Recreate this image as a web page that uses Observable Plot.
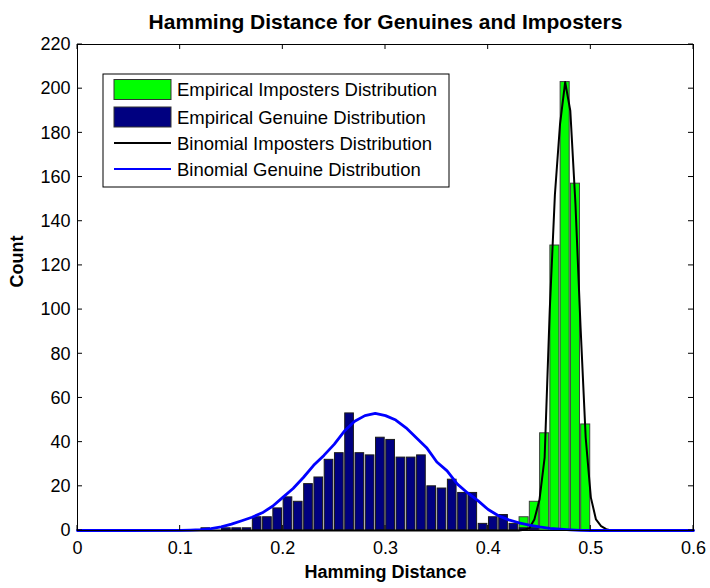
<!DOCTYPE html>
<html>
<head>
<meta charset="utf-8">
<script src="https://cdn.jsdelivr.net/npm/d3@7"></script>
<script src="https://cdn.jsdelivr.net/npm/@observablehq/plot@0.6"></script>
<style>
  html, body { margin: 0; padding: 0; background: white; }
  #chart { width: 710px; height: 588px; }
</style>
</head>
<body>
<div id="chart"></div>
<script>
// ---- Data ----
const titleText = "Hamming Distance for Genuines and Imposters";
const xLabel = "Hamming Distance";
const yLabel = "Count";

const xTicks = [0, 0.1, 0.2, 0.3, 0.4, 0.5, 0.6];
const xTickLabels = ["0", "0.1", "0.2", "0.3", "0.4", "0.5", "0.6"];
const yTicks = [0, 20, 40, 60, 80, 100, 120, 140, 160, 180, 200, 220];

const binWidth = 0.01;

// Empirical imposters histogram (bin centers, counts)
const impBins   = [0.435, 0.445, 0.455, 0.465, 0.475, 0.485, 0.495];
const impCounts = [6, 13, 44, 129, 203, 157, 48];

// Empirical genuine histogram (bin centers, counts)
const genBins = [0.125, 0.145, 0.155, 0.165, 0.175, 0.185, 0.195, 0.205, 0.215, 0.225,
                 0.235, 0.245, 0.255, 0.265, 0.275, 0.285, 0.295, 0.305, 0.315, 0.325,
                 0.335, 0.345, 0.355, 0.365, 0.375, 0.385, 0.395, 0.405, 0.415, 0.425,
                 0.435, 0.445];
const genCounts = [1, 1, 1, 1, 6, 6, 10, 15, 13, 21,
                   24, 32, 35, 53, 35, 34, 42, 41, 33, 33,
                   34, 20, 19, 23, 17, 17, 3, 6, 7, 3,
                   1, 1];

// Binomial imposters fit (black curve)
const impFitX = [0, 0.40, 0.43, 0.435, 0.44, 0.445, 0.45, 0.455, 0.46, 0.465, 0.47, 0.475,
                 0.48, 0.485, 0.49, 0.495, 0.50, 0.505, 0.51, 0.515, 0.52, 0.60];
const impFitY = [0, 0, 0, 0.3, 1, 5, 14, 33, 100, 152, 184, 203,
                 190, 148, 92, 42, 15, 5, 2, 0.6, 0, 0];

// Binomial genuine fit (blue curve)
const genFitX = [0, 0.05, 0.10, 0.11, 0.12, 0.13, 0.14, 0.15, 0.16, 0.17, 0.18, 0.19,
                 0.20, 0.21, 0.22, 0.23, 0.24, 0.25, 0.26, 0.27, 0.28, 0.29, 0.30,
                 0.31, 0.32, 0.33, 0.34, 0.35, 0.36, 0.37, 0.38, 0.39, 0.40, 0.41,
                 0.42, 0.43, 0.44, 0.45, 0.46, 0.47, 0.48, 0.49, 0.50, 0.55, 0.60];
const genFitY = [0, 0, 0.1, 0.2, 0.4, 0.8, 1.6, 2.9, 4.4, 6, 8, 11,
                 15, 19, 24, 29.5, 34, 39, 45, 49.5, 52, 53, 52,
                 50, 46.5, 42, 37.5, 31, 27, 21, 17, 13.5, 9.5, 6.7,
                 4.8, 3.5, 2.4, 1.6, 1, 0.6, 0.3, 0.1, 0, 0, 0];

const legendItems = [
  {label: "Empirical Imposters Distribution", kind: "rect", color: "#00FF00"},
  {label: "Empirical Genuine Distribution",   kind: "rect", color: "#000080"},
  {label: "Binomial Imposters Distribution",  kind: "line", color: "#000000"},
  {label: "Binomial Genuine Distribution",    kind: "line", color: "#0000FF"}
];

// ---- Tables built from arrays ----
const impData = impBins.map((c, i) => ({c, n: impCounts[i]}));
const genData = genBins.map((c, i) => ({c, n: genCounts[i]}));
const impFit = impFitX.map((x, i) => ({x, y: impFitY[i]}));
const genFit = genFitX.map((x, i) => ({x, y: genFitY[i]}));

const font = "'Liberation Sans', Arial, Helvetica, sans-serif";

const plot = Plot.plot({
  width: 710,
  height: 588,
  marginLeft: 77,
  marginRight: 17,
  marginTop: 44,
  marginBottom: 58,
  style: {fontFamily: font, fontSize: "18px", background: "white", color: "black"},
  x: {domain: [0, 0.6]},
  y: {domain: [0, 220]},
  marks: [
    Plot.rectY(impData, {
      x1: d => d.c - binWidth / 2, x2: d => d.c + binWidth / 2, y1: 0, y2: "n",
      fill: "#00FF00", stroke: "#404040", strokeWidth: 1, insetLeft: 0.6, insetRight: 0.6
    }),
    Plot.rectY(genData, {
      x1: d => d.c - binWidth / 2, x2: d => d.c + binWidth / 2, y1: 0, y2: "n",
      fill: "#000080", stroke: "#1a1a1a", strokeWidth: 1, insetLeft: 0.8, insetRight: 0.8
    }),
    Plot.line(impFit, {x: "x", y: "y", stroke: "black", strokeWidth: 2}),
    Plot.line(genFit, {x: "x", y: "y", stroke: "#0000FF", strokeWidth: 2.8}),
    Plot.frame({stroke: "black", strokeWidth: 1}),
    Plot.axisX({
      ticks: xTicks, tickSize: 0, tickPadding: 11,
      tickFormat: d => xTickLabels[xTicks.indexOf(d)], label: null, fontSize: 18
    }),
    Plot.axisY({ticks: yTicks, tickSize: 0, tickPadding: 7, label: null, fontSize: 18}),
    Plot.text([titleText], {
      text: d => d, frameAnchor: "top", dy: -30, fontWeight: "bold", fontSize: 21
    }),
    Plot.text([xLabel], {
      text: d => d, frameAnchor: "bottom", dy: 47, fontWeight: "bold", fontSize: 18
    }),
    Plot.text([yLabel], {
      text: d => d, frameAnchor: "left", dx: -60, rotate: -90, fontWeight: "bold", fontSize: 18
    })
  ]
});

document.getElementById("chart").appendChild(plot);

// ---- Inward tick marks on all four sides (MATLAB box style) ----
const svg = d3.select(plot);
const xs = plot.scale("x"), ys = plot.scale("y");
const x0 = xs.apply(0), x1 = xs.apply(0.6), y0 = ys.apply(0), y1 = ys.apply(220);
const tg = svg.append("g").attr("stroke", "black").attr("stroke-width", 1);
const tl = 5;
xTicks.forEach(t => {
  const px = xs.apply(t);
  tg.append("line").attr("x1", px).attr("x2", px).attr("y1", y0).attr("y2", y0 - tl);
  tg.append("line").attr("x1", px).attr("x2", px).attr("y1", y1).attr("y2", y1 + tl);
});
yTicks.forEach(t => {
  const py = ys.apply(t);
  tg.append("line").attr("x1", x0).attr("x2", x0 + tl).attr("y1", py).attr("y2", py);
  tg.append("line").attr("x1", x1).attr("x2", x1 - tl).attr("y1", py).attr("y2", py);
});

// ---- Legend box ----
const lg = svg.append("g").attr("font-family", font).attr("font-size", 18.5)
  .attr("text-anchor", "start");
const lx = 103, ly = 74, lw = 346, lh = 113;
lg.append("rect").attr("x", lx).attr("y", ly).attr("width", lw).attr("height", lh)
  .attr("fill", "white").attr("stroke", "black").attr("stroke-width", 1);
const rowY = [89.5, 117, 143, 169];
legendItems.forEach((it, i) => {
  const cy = rowY[i];
  if (it.kind === "rect") {
    lg.append("rect").attr("x", 114).attr("y", cy - 10).attr("width", 57).attr("height", 20)
      .attr("fill", it.color).attr("stroke", "#333").attr("stroke-width", 1);
  } else {
    lg.append("line").attr("x1", 114).attr("x2", 171).attr("y1", cy).attr("y2", cy)
      .attr("stroke", it.color).attr("stroke-width", 2.2);
  }
  lg.append("text").attr("x", 177).attr("y", cy).attr("dominant-baseline", "central")
    .attr("text-anchor", "start").attr("fill", "black").text(it.label);
});
</script>
</body>
</html>
